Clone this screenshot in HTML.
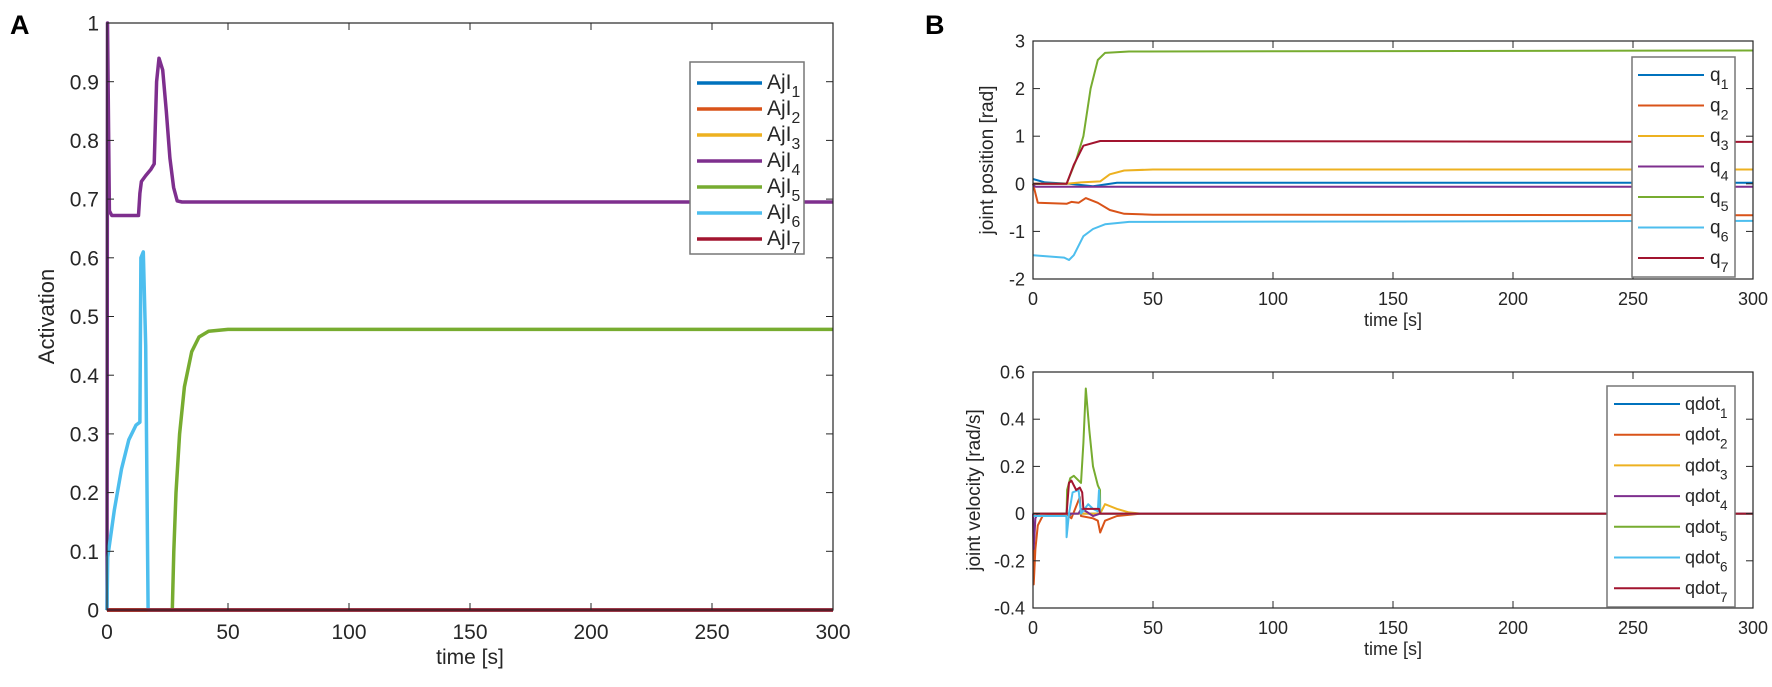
<!DOCTYPE html>
<html><head><meta charset="utf-8"><style>
body{margin:0;background:#fff;width:1772px;height:682px;overflow:hidden}
svg text{font-family:"Liberation Sans",Arial,sans-serif;fill:#262626}
</style></head><body>
<svg id="fig" width="1772" height="682" xmlns="http://www.w3.org/2000/svg">
<text x="10" y="34" font-size="27" font-weight="bold" style="fill:#000">A</text>
<text x="925" y="34" font-size="27" font-weight="bold" style="fill:#000">B</text>
</svg>
<script>
const colors=["#0072BD","#D95319","#EDB120","#7E2F8E","#77AC30","#4DBEEE","#A2142F"];
// Panel A data: [time, activation] pairs
const aT0=[0,300]; const aV0=[0,0];
const aT1=[0,300]; const aV1=[0,0];
const aT2=[0,300]; const aV2=[0,0];
const aT3=[0,0.2,1,2,13,13.6,14.2,16,18,19.5,20.5,21.5,23,24.5,26,27.5,29,31,300];
const aV3=[0,1,0.68,0.672,0.672,0.71,0.73,0.74,0.75,0.76,0.9,0.94,0.92,0.85,0.77,0.72,0.697,0.695,0.695];
const aT4=[0,27,27.6,28.5,30,32,35,38,42,50,300];
const aV4=[0,0,0.1,0.2,0.3,0.38,0.44,0.465,0.475,0.478,0.478];
const aT5=[0,0.3,3,6,9,12,13.6,14,15,16,17,300];
const aV5=[0,0.09,0.17,0.24,0.29,0.315,0.32,0.6,0.61,0.45,0,0];
const aT6=[0,300]; const aV6=[0,0];
const aTimes=[aT0,aT1,aT2,aT3,aT4,aT5,aT6];
const aVals=[aV0,aV1,aV2,aV3,aV4,aV5,aV6];
const aXTicks=[0,50,100,150,200,250,300];
const aYTicks=[0,0.1,0.2,0.3,0.4,0.5,0.6,0.7,0.8,0.9,1];
const aYTickLabels=["0","0.1","0.2","0.3","0.4","0.5","0.6","0.7","0.8","0.9","1"];
// Panel B top: joint positions
const qT0=[0,5,15,25,35,300]; const qV0=[0.1,0.03,0,-0.05,0.02,0.02];
const qT1=[0,2,14,16,19,22,27,32,38,50,300]; const qV1=[0,-0.4,-0.42,-0.38,-0.4,-0.3,-0.4,-0.55,-0.63,-0.65,-0.66];
const qT2=[0,14,20,28,32,38,50,300]; const qV2=[0,0,0.03,0.05,0.2,0.28,0.3,0.3];
const qT3=[0,1,300]; const qV3=[-0.02,-0.06,-0.06];
const qT4=[0,14,18,21,24,27,30,40,300]; const qV4=[0,0,0.5,1.0,2.0,2.6,2.75,2.78,2.8];
const qT5=[0,13,15,17,21,25,30,40,300]; const qV5=[-1.5,-1.55,-1.6,-1.5,-1.1,-0.95,-0.85,-0.8,-0.78];
const qT6=[0,14,17,21,28,300]; const qV6=[0,0,0.4,0.8,0.9,0.88];
const qTimes=[qT0,qT1,qT2,qT3,qT4,qT5,qT6];
const qVals=[qV0,qV1,qV2,qV3,qV4,qV5,qV6];
const qYTicks=[-2,-1,0,1,2,3];
const qYTickLabels=["-2","-1","0","1","2","3"];
// Panel B bottom: joint velocities
const dT0=[0,14,15,16,300]; const dV0=[0,0,-0.01,0,0];
const dT1=[0,0.3,1,2,4,14,16,19.5,20,25,27,28,30,35,45,300]; const dV1=[0,-0.3,-0.15,-0.05,-0.01,0,-0.02,0.07,-0.01,-0.02,-0.03,-0.08,-0.03,-0.01,0,0];
const dT2=[0,28,30,35,40,45,300]; const dV2=[0,0,0.04,0.02,0.005,0,0];
const dT3=[0,0.3,1,2,19,20,22,25,28,300]; const dV3=[0,-0.15,-0.02,0,0,0.02,0.01,-0.01,0,0];
const dT4=[0,14,14.2,15.5,17,19,20,21,22,23.5,25,27,27.9,28,300]; const dV4=[0,0,0.1,0.15,0.16,0.14,0.13,0.3,0.53,0.35,0.2,0.12,0.1,0,0];
const dT5=[0,13.9,14,15,16.5,19,20,23,25,27,27.5,28,300]; const dV5=[-0.01,-0.01,-0.1,0,0.09,0.1,0,0.04,0.02,0.01,0.1,0,0];
const dT6=[0,14,15,16,18,19.5,20.5,21,27.5,28,300]; const dV6=[0,0,0.13,0.14,0.1,0.11,0.09,0.02,0.02,0,0];
const dTimes=[dT0,dT1,dT2,dT3,dT4,dT5,dT6];
const dVals=[dV0,dV1,dV2,dV3,dV4,dV5,dV6];
const dYTicks=[-0.4,-0.2,0,0.2,0.4,0.6];
const dYTickLabels=["-0.4","-0.2","0","0.2","0.4","0.6"];

const NS="http://www.w3.org/2000/svg";
const svg=document.getElementById('fig');
function mk(tag,attrs,parent){const e=document.createElementNS(NS,tag);for(const k in attrs)e.setAttribute(k,attrs[k]);(parent||svg).appendChild(e);return e;}

function panel(o){
  const sx=t=>o.x0+(t-o.xmin)/(o.xmax-o.xmin)*(o.x1-o.x0);
  const sy=v=>o.y1-(v-o.ymin)/(o.ymax-o.ymin)*(o.y1-o.y0);
  const g=mk('g',{});
  
  
  o.times.forEach((ts,i)=>{
    const d=ts.map((t,j)=>(j?'L':'M')+sx(t).toFixed(1)+','+sy(o.vals[i][j]).toFixed(1)).join(' ');
    const p=mk('path',{d:d,fill:'none',stroke:colors[i],'stroke-width':o.lw,'stroke-linejoin':'round'},g);
    
    
  });
  const b=mk('rect',{x:o.x0,y:o.y0,width:o.x1-o.x0,height:o.y1-o.y0,fill:'none',stroke:'#262626','stroke-width':1.2},g);
  
  
  o.xticks.forEach(t=>{
    const x=sx(t);
    mk('line',{x1:x,x2:x,y1:o.y1,y2:o.y1-7,stroke:'#262626'},g);
    mk('line',{x1:x,x2:x,y1:o.y0,y2:o.y0+7,stroke:'#262626'},g);
    const tx=mk('text',{x:x,y:o.y1+o.fs+8,'font-size':o.fs,'text-anchor':'middle'},g);
    tx.textContent=t;
    
    
  });
  o.yticks.forEach((v,i)=>{
    const y=sy(v);
    mk('line',{x1:o.x0,x2:o.x0+7,y1:y,y2:y,stroke:'#262626'},g);
    mk('line',{x1:o.x1,x2:o.x1-7,y1:y,y2:y,stroke:'#262626'},g);
    const tx=mk('text',{x:o.x0-8,y:y+o.fs*0.36,'font-size':o.fs,'text-anchor':'end'},g);
    tx.textContent=o.ylabels[i];
    
    
  });
  const xl=mk('text',{x:(o.x0+o.x1)/2,y:o.xlabY,'font-size':o.fs,'text-anchor':'middle'},g);
  xl.textContent='time [s]';
  
  
  const yl=mk('text',{x:0,y:0,'font-size':o.fs+1,'text-anchor':'middle',transform:`translate(${o.ylabX},${(o.y0+o.y1)/2}) rotate(-90)`},g);
  yl.textContent=o.ytitle;
  
  
  const L=o.leg;
  const lg=mk('g',{},g);
  
  
  mk('rect',{x:L.x,y:L.y,width:L.w,height:L.h,fill:'#fff',stroke:'#777','stroke-width':1.5},lg);
  for(let i=0;i<7;i++){
    const y=L.first+i*L.step;
    const ln=mk('line',{x1:L.lx0,x2:L.lx1,y1:y,y2:y,stroke:colors[i],'stroke-width':o.lw},lg);
    
    
    const t=mk('text',{x:L.tx,y:y+6,'font-size':L.fs},lg);
    
    
    t.textContent=o.label;
    const s=mk('tspan',{dy:8,'font-size':L.fs*0.75},t);
    s.textContent=String(i+1);
  }
}
panel({name:'activation-chart',prefix:'ajl',x0:107,x1:833,y0:23,y1:610,xmin:0,xmax:300,ymin:0,ymax:1,
  times:aTimes,vals:aVals,lw:3.5,xticks:aXTicks,yticks:aYTicks,ylabels:aYTickLabels,fs:21,
  xlabY:664,ylabX:54,ytitle:'Activation',label:'AjI',
  leg:{x:690,y:62,w:114,h:192,first:83,step:26,lx0:697,lx1:762,tx:767,fs:21}});
panel({name:'joint-position-chart',prefix:'q',x0:1033,x1:1753,y0:41,y1:279,xmin:0,xmax:300,ymin:-2,ymax:3,
  times:qTimes,vals:qVals,lw:2,xticks:aXTicks,yticks:qYTicks,ylabels:qYTickLabels,fs:18,
  xlabY:326,ylabX:993,ytitle:'joint position [rad]',label:'q',
  leg:{x:1632,y:57,w:103,h:220,first:75,step:30.5,lx0:1638,lx1:1704,tx:1710,fs:19}});
panel({name:'joint-velocity-chart',prefix:'qdot',x0:1033,x1:1753,y0:372,y1:608,xmin:0,xmax:300,ymin:-0.4,ymax:0.6,
  times:dTimes,vals:dVals,lw:2,xticks:aXTicks,yticks:dYTicks,ylabels:dYTickLabels,fs:18,
  xlabY:655,ylabX:980,ytitle:'joint velocity [rad/s]',label:'qdot',
  leg:{x:1607,y:386,w:128,h:221,first:404,step:30.7,lx0:1614,lx1:1680,tx:1685,fs:18}});
</script>
</body></html>
